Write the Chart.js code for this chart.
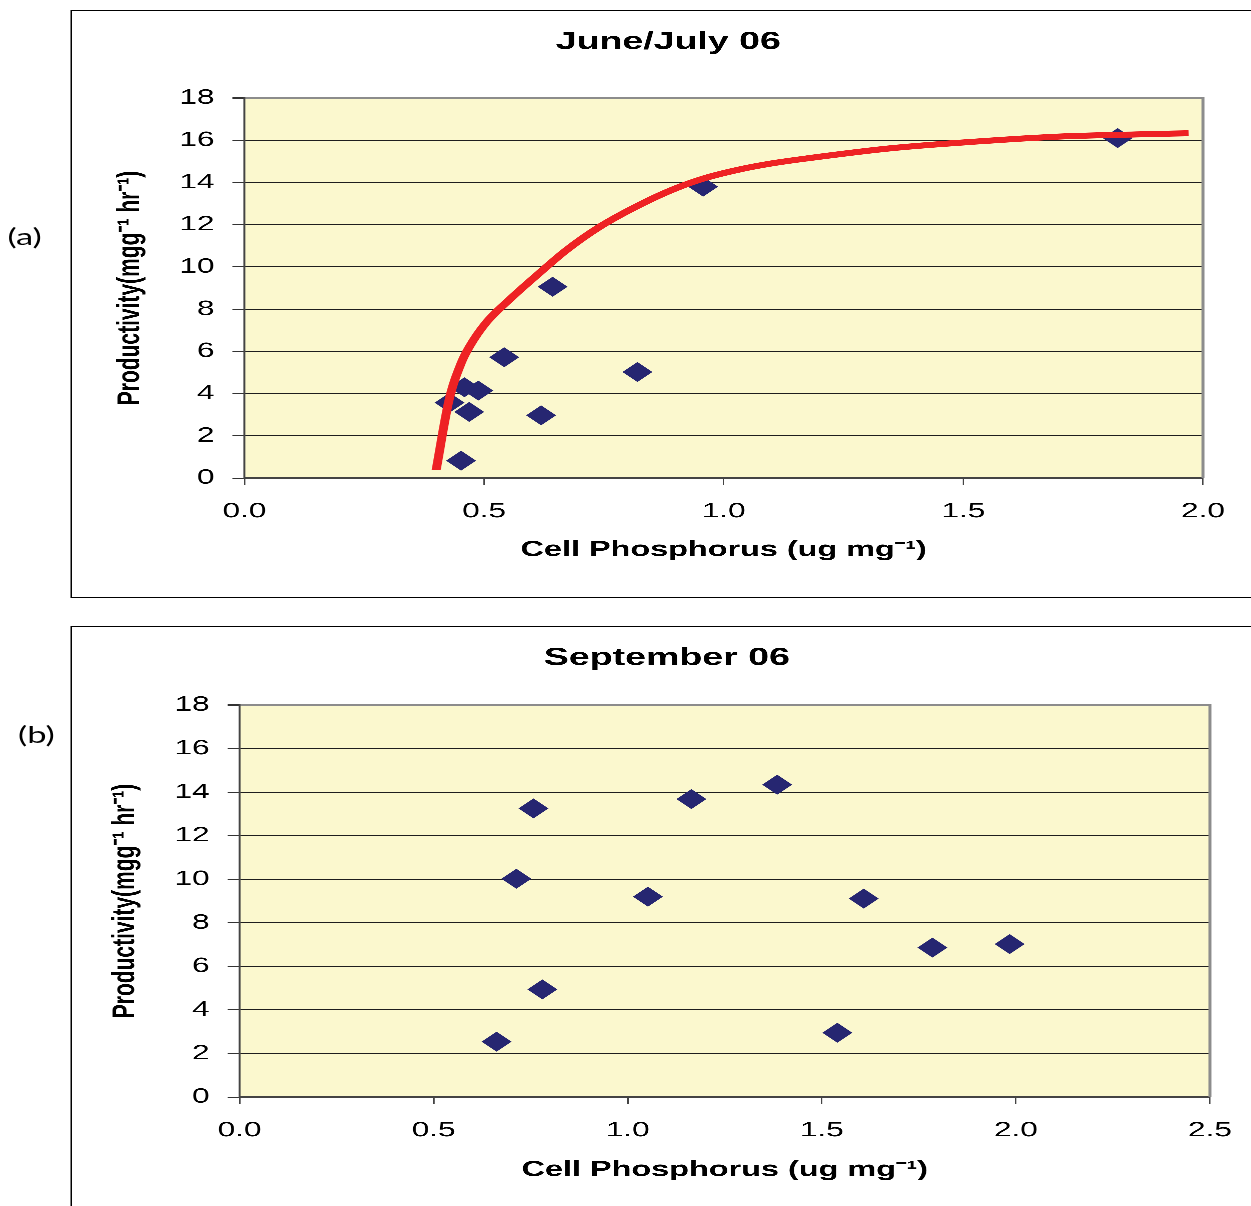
<!DOCTYPE html>
<html><head><meta charset="utf-8">
<script src="https://cdn.jsdelivr.net/npm/chart.js@4.4.1/dist/chart.umd.min.js"></script>
<style>
html,body{margin:0;padding:0;background:#fff;overflow:hidden;}
#page{position:absolute;left:0;top:0;width:840px;height:1206px;transform:scaleX(1.5);transform-origin:0 0;}
.lab{position:absolute;font-family:Lato,"Open Sans",sans-serif;font-size:23px;color:#000;line-height:26px;}
.box{position:absolute;border:1px solid #000;background:#fff;}
.cw{position:absolute;left:0;top:0;}
</style></head><body>
<div id="page">
  <div class="lab" style="left:5px;top:223px">(a)</div>
  <div class="lab" style="left:12px;top:721px">(b)</div>
  <div class="box" style="left:47px;top:10px;width:800px;height:586px;"><div class="cw" style="width:795.4px;height:586px"><canvas id="ca"></canvas></div></div>
  <div class="box" style="left:47px;top:626px;width:800px;height:600px;"><div class="cw" style="width:792.8px;height:590px"><canvas id="cb"></canvas></div></div>
</div>
<script>
// ---- data ----
const titleA = 'June/July 06';
const titleB = 'September 06';
const xTitle = 'Cell Phosphorus (ug mg\u207B\u00B9)';
const yTitle = 'Productivity(mgg\u207B\u00B9 hr\u207B\u00B9)';

const junePX = [0.452, 0.428, 0.459, 0.488, 0.469, 0.542, 0.619, 0.643, 0.820, 0.957, 1.822];
const junePY = [0.82, 3.57, 4.30, 4.14, 3.13, 5.72, 2.97, 9.06, 5.02, 13.8, 16.1];

const juneFitX = [0.400, 0.427, 0.452, 0.469, 0.504, 0.553, 0.615, 0.671, 0.740, 0.830, 0.900, 0.960, 1.030, 1.100, 1.174, 1.349, 1.522, 1.696, 1.870, 1.970];
const juneFitY = [0.38, 3.7, 5.43, 6.2, 7.35, 8.45, 9.7, 10.78, 11.88, 13.0, 13.72, 14.2, 14.6, 14.9, 15.14, 15.62, 15.93, 16.17, 16.28, 16.33];

const sepPX = [0.662, 0.757, 0.713, 0.780, 1.052, 1.164, 1.385, 1.608, 1.540, 1.785, 1.984];
const sepPY = [2.54, 13.25, 10.02, 4.94, 9.20, 13.68, 14.34, 9.11, 2.95, 6.86, 7.02];

const yTicks = [0, 2, 4, 6, 8, 10, 12, 14, 16, 18];
const xMaxA = 2.0, xMaxB = 2.5, xStep = 0.5;

// ---- helpers ----
const pts = (xs, ys) => xs.map((x, i) => ({x: x, y: ys[i]}));
const FONT = '"Liberation Sans", Arial, Helvetica, sans-serif';

const plotDecor = {
  id: 'plotDecor',
  beforeDraw(chart) {
    const {ctx, chartArea: a} = chart;
    ctx.save();
    ctx.fillStyle = '#FBF8CE';
    ctx.fillRect(a.left, a.top, a.right - a.left, a.bottom - a.top);
    ctx.restore();
  },
  beforeDatasetsDraw(chart) {
    const {ctx, chartArea: a} = chart;
    ctx.save();
    ctx.strokeStyle = '#8c8c8c';
    ctx.lineWidth = 2;
    ctx.beginPath();
    ctx.moveTo(a.right, a.top - 1);
    ctx.lineTo(a.right, a.bottom);
    ctx.stroke();
    ctx.restore();
  }
};

function makeChart(id, title, datasets, xMax, geo) {
  return new Chart(document.getElementById(id), {
    type: 'scatter',
    data: {datasets: datasets},
    plugins: [plotDecor],
    options: {
      responsive: true,
      maintainAspectRatio: false,
      devicePixelRatio: 3,
      animation: false,
      layout: {padding: 0},
      plugins: {
        legend: {display: false},
        tooltip: {enabled: false},
        title: {
          display: true, text: title, color: '#000',
          font: {family: FONT, size: 25, weight: 'bold'},
          padding: {top: geo.titleTop, bottom: geo.titleBottom}
        }
      },
      scales: {
        x: {
          type: 'linear', min: 0, max: xMax,
          afterFit: s => { s.height = geo.xH; },
          ticks: {stepSize: xStep, color: '#000', padding: 14, maxRotation: 0,
            font: {family: FONT, size: 21},
            callback: v => Number(v).toFixed(1)},
          grid: {drawOnChartArea: false, drawTicks: true, tickLength: 7, color: '#444', tickColor: '#444'},
          border: {display: true, color: '#444', width: 1.3},
          title: {display: true, text: xTitle, color: '#000',
            font: {family: FONT, size: 21.6, weight: 'bold'},
            padding: {top: 0, bottom: 34}}
        },
        y: {
          min: 0, max: 18,
          afterFit: s => { s.width = geo.yW; },
          afterBuildTicks: s => { s.ticks = yTicks.map(v => ({value: v})); },
          ticks: {color: '#000', padding: 12, font: {family: FONT, size: 21}},
          grid: {
            drawTicks: true, tickLength: 8, tickColor: '#333',
            color: c => (c.tick && c.tick.value === 18) ? '#8c8c8c' : '#1e1e1e',
            lineWidth: c => (c.tick && c.tick.value === 18) ? 2 : 1
          },
          border: {display: true, color: '#444', width: 1.3},
          title: {display: true, text: yTitle, color: '#000',
            font: {family: FONT, size: 21, weight: 'bold'},
            padding: {top: geo.yTitlePad, bottom: 0}}
        },
        yR: {
          type: 'linear', position: 'right', display: true, min: 0, max: 18,
          afterFit: s => { s.width = geo.rightW; },
          ticks: {display: false},
          grid: {display: false, drawTicks: false},
          border: {display: false}
        }
      }
    }
  });
}

makeChart('ca', titleA, [
  {type: 'line', data: pts(juneFitX, juneFitY), borderColor: '#EE2224', borderWidth: 6,
   pointRadius: 0, fill: false, cubicInterpolationMode: 'monotone', showLine: true, order: 0},
  {type: 'scatter', data: pts(junePX, junePY), pointStyle: 'rectRot', pointRadius: 10,
   backgroundColor: '#262671', borderWidth: 0, order: 1}
], xMaxA, {rightW: 41.1, titleTop: 16, titleBottom: 41, xH: 119, yW: 115, yTitlePad: 26.4});

makeChart('cb', titleB, [
  {type: 'scatter', data: pts(sepPX, sepPY), pointStyle: 'rectRot', pointRadius: 10,
   backgroundColor: '#262671', borderWidth: 0, order: 1}
], xMaxB, {rightW: 34.5, titleTop: 16, titleBottom: 32, xH: 120, yW: 111.7, yTitlePad: 23.1});
</script>
</body></html>
